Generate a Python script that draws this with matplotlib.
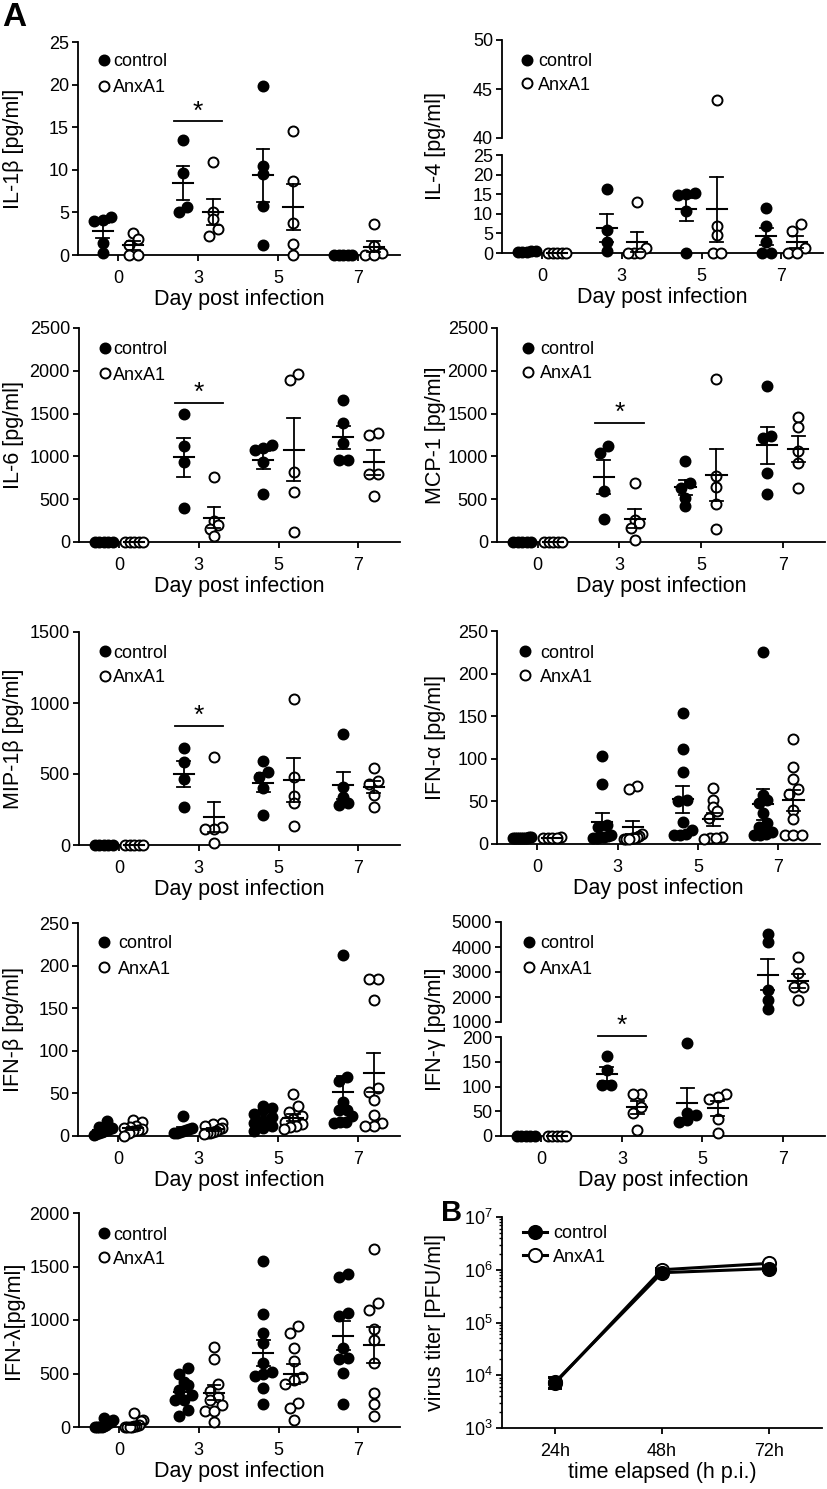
import numpy as np
import matplotlib
matplotlib.use('Agg')
import matplotlib.pyplot as plt
from matplotlib.lines import Line2D

plt.rcParams['font.family'] = ['Liberation Sans', 'DejaVu Sans']
plt.rcParams['mathtext.fontset'] = 'custom'
plt.rcParams['mathtext.rm'] = 'Liberation Sans'
plt.rcParams['mathtext.it'] = 'Liberation Sans:italic'
plt.rcParams['mathtext.bf'] = 'Liberation Sans:bold'

# ---- data ----
days = ['0', '3', '5', '7']

il1b_ctrl = [[4.1, 4.5, 4.0, 1.4, 0.2], [13.5, 9.6, 5.6, 5.1], [19.8, 10.4, 9.5, 5.8, 1.2], [0, 0, 0, 0, 0]]
il1b_anx = [[2.6, 1.9, 1.2, 0, 0], [10.9, 5.1, 4.2, 3.0, 2.2], [14.6, 8.7, 3.8, 1.25, 0], [3.6, 1.1, 0.2, 0, 0]]

il4_ctrl = [[0.4, 0.3, 0.5, 0.2, 0.3], [16.3, 5.9, 2.7, 0.4], [15.3, 15.0, 14.8, 10.8, 0], [11.4, 7.0, 2.7, 0, 0]]
il4_anx = [[0, 0, 0, 0, 0], [12.9, 1.3, 0, 0, 0], [43.9, 7.0, 4.7, 0, 0], [7.4, 5.5, 1.3, 0, 0]]

il6_ctrl = [[0, 0, 0, 0, 0], [1500, 1125, 935, 397], [1130, 1100, 1070, 930, 565], [1655, 1390, 1157, 962, 962]]
il6_anx = [[0, 0, 0, 0, 0], [759, 249, 195, 156, 66], [1967, 1896, 818, 584, 117], [1273, 1254, 798, 798, 533]]

mcp1_ctrl = [[0, 0, 0, 0, 0], [1121, 1035, 598, 273], [949, 691, 625, 515, 418], [1828, 1238, 1219, 801, 555]]
mcp1_anx = [[0, 0, 0, 0, 0], [690, 255, 220, 160, 27], [1906, 770, 645, 441, 148], [1457, 1348, 1066, 918, 633]]

mip1b_ctrl = [[0, 0, 0, 0, 0], [684, 581, 464, 265], [591, 511, 480, 403, 211], [785, 405, 335, 298, 281]]
mip1b_anx = [[0, 0, 0, 0, 0], [621, 125, 115, 110, 16], [1031, 476, 347, 293, 134], [539, 452, 429, 352, 270]]

ifna_ctrl = [[8, 8, 7, 7, 7, 7, 7, 7, 7, 7], [103, 70, 22, 20, 10, 9, 8, 8, 7, 7],
             [154, 111, 84, 52, 50, 26, 16, 12, 10, 10], [225, 58, 52, 48, 36, 25, 20, 14, 12, 11, 10]]
ifna_anx = [[8, 7, 7, 7, 7], [68, 65, 12, 9, 8, 7, 7, 6, 6, 6],
            [66, 52, 43, 39, 31, 8, 7, 7, 6], [123, 90, 76, 65, 59, 40, 29, 10.5, 10.5, 10.5]]

ifnb_ctrl = [[18, 10, 9, 8, 7, 6, 5, 4, 2, 1], [24, 9, 8, 7, 6, 5, 4, 3],
             [35, 33, 30, 26, 22, 18, 15, 12, 9, 6], [212, 69, 64, 40, 30, 30, 23, 17, 17, 15]]
ifnb_anx = [[19, 16, 12, 10, 9, 8, 7, 6, 3, 0], [15, 14, 12, 9, 8, 6, 5, 4, 3, 2],
            [49, 35, 28, 23, 20, 17, 14, 12, 10, 8], [184, 184, 160, 56, 52, 42, 25, 15, 12, 12]]

ifng_ctrl = [[0, 0, 0, 0, 0], [162, 133, 103, 103], [187, 46, 42, 32, 29], [4530, 4210, 2290, 1890, 1540]]
ifng_anx = [[0, 0, 0, 0, 0], [85, 85, 59, 46, 13], [84, 79, 75, 34, 7], [3600, 2950, 2400, 2400, 1900]]

ifnl_ctrl = [[85, 70, 50, 35, 20, 10, 0, 0, 0, 0], [553, 500, 416, 397, 344, 300, 256, 250, 156, 103],
             [1547, 1056, 881, 781, 594, 516, 500, 475, 366, 219], [1431, 1406, 1063, 1038, 734, 641, 631, 509, 219]]
ifnl_anx = [[130, 62, 55, 20, 10, 5, 0, 0, 0, 0], [744, 640, 406, 338, 281, 250, 203, 150, 150, 47],
            [944, 881, 734, 616, 469, 438, 400, 228, 178, 69], [1666, 1163, 1094, 913, 813, 594, 319, 219, 103]]

times = ['24h', '48h', '72h']
titer_ctrl = [7500, 8.8e5, 1.05e6]
titer_ctrl_sem = [1800, 8e4, 1e5]
titer_anx = [7200, 1.0e6, 1.32e6]
titer_anx_sem = [1800, 8e4, 1e5]

# ---- layout helpers (pixel coords of the 827x1489 figure) ----
W, H = 827, 1489
fig = plt.figure(figsize=(W / 100, H / 100), dpi=100)

TICK = 13
LAB = 15.5
LW = 1.3
MS = 7.2


def box(l, t, r, b):
    return [l / W, 1 - b / H, (r - l) / W, (b - t) / H]


def fx(x):
    return x / W


def fy(y):
    return 1 - y / H


def style(ax, bottom=True):
    for s in ['top', 'right']:
        ax.spines[s].set_visible(False)
    for s in ax.spines.values():
        s.set_linewidth(LW)
    ax.tick_params(axis='both', direction='out', length=4.5, width=LW, labelsize=TICK)
    ax.tick_params(axis='y', pad=2)
    ax.tick_params(axis='x', pad=6)
    if not bottom:
        ax.spines['bottom'].set_visible(False)
        ax.tick_params(axis='x', bottom=False, labelbottom=False)
    ax.patch.set_alpha(0)


def which(axs, v):
    for a, lo, hi in axs:
        if lo <= v <= hi:
            return a
    return None


def swarm_offsets(ypix, diam=9.5, half=9.0):
    # prism-like column scatter: points in the same row are spread sideways
    order = np.argsort(ypix)
    offs = np.zeros(len(ypix))
    rows = []
    for i in order:
        if rows and ypix[i] - ypix[rows[-1][0]] < diam * 0.8:
            rows[-1].append(i)
        else:
            rows.append([i])
    for row in rows:
        k = len(row)
        if k == 1:
            continue
        step = min(diam * 0.9, 2 * half / (k - 1))
        for j, i in enumerate(row):
            offs[i] = (j - (k - 1) / 2) * step
    return offs


def draw_series(axs, groups, side, filled):
    a0 = axs[-1][0]
    ppu = a0.transData.transform((1, 0))[0] - a0.transData.transform((0, 0))[0]
    for g, vals in enumerate(groups):
        vals = np.asarray(vals, float)
        xc = g + side
        homes = [which(axs, v) for v in vals]
        ypix = np.array([a.transData.transform((0, v))[1] for a, v in zip(homes, vals)])
        offs = swarm_offsets(ypix) / ppu
        for a, v, o in zip(homes, vals, offs):
            a.plot(xc + o, v, 'o', ms=MS, mfc='k' if filled else 'white', mec='k',
                   mew=1.4, clip_on=False, zorder=3)
        m = vals.mean()
        se = vals.std(ddof=1) / np.sqrt(len(vals))
        am = which(axs, m)
        am.plot([xc - 0.125, xc + 0.125], [m, m], color='k', lw=LW + 0.2, clip_on=False, zorder=4)
        for a, lo, hi in axs:
            y0 = max(m - se, lo, a.get_ylim()[0])
            y1 = min(m + se, hi, a.get_ylim()[1])
            if y1 > y0:
                a.plot([xc, xc], [y0, y1], color='k', lw=LW, clip_on=False, zorder=4)
        for e in (m - se, m + se):
            ae = which(axs, e)
            if ae is not None and se > 0:
                ae.plot([xc - 0.08, xc + 0.08], [e, e], color='k', lw=LW, clip_on=False, zorder=4)


def legend(mx, y1, y2, tx):
    fig.add_artist(Line2D([fx(mx)], [fy(y1)], marker='o', ms=MS, mfc='k', mec='k', mew=1.4, ls='none'))
    fig.add_artist(Line2D([fx(mx)], [fy(y2)], marker='o', ms=MS, mfc='white', mec='k', mew=1.4, ls='none'))
    fig.text(fx(tx), fy(y1), 'control', fontsize=TICK, va='center_baseline', ha='left')
    fig.text(fx(tx), fy(y2), 'AnxA1', fontsize=TICK, va='center_baseline', ha='left')


def cyto(bx, ylim, yticks, ctrl, anx, ylabel, leg, sig=None, upper=None):
    l, t, r, b = bx
    ax = fig.add_axes(box(l, t, r, b))
    ax.set_xlim(-0.5, 3.52)
    ax.set_ylim(*ylim)
    ax.set_yticks(yticks)
    ax.set_xticks(range(4))
    ax.set_xticklabels(days)
    style(ax)
    ax.set_xlabel('Day post infection', fontsize=LAB, labelpad=2)
    top_px = t
    if upper is not None:
        t2, b2, ylim2, yticks2 = upper
        ax2 = fig.add_axes(box(l, t2, r, b2))
        ax2.set_xlim(-0.5, 3.52)
        ax2.set_ylim(*ylim2)
        ax2.set_yticks(yticks2)
        style(ax2, bottom=False)
        axs = [(ax2, ylim2[0], np.inf), (ax, -np.inf, ylim[1])]
        top_px = t2
    else:
        axs = [(ax, -np.inf, np.inf)]
    draw_series(axs, ctrl, -0.19, True)
    draw_series(axs, anx, 0.19, False)
    fig.text(fx(14 if l < 300 else 436), fy((top_px + b) / 2), ylabel, rotation=90,
             ha='center', va='center', fontsize=LAB)
    legend(*leg)
    if sig is not None:
        ax.plot([0.7, 1.3], [sig, sig], color='k', lw=LW, clip_on=False)
        ax.annotate('*', (1, sig), xytext=(0, 2), textcoords='offset points',
                    ha='center', va='baseline', fontsize=19, annotation_clip=False)
    return ax


cyto((78, 42, 400, 255), (0, 25), range(0, 26, 5), il1b_ctrl, il1b_anx,
     'IL-1β [pg/ml]', (104, 60, 86, 113), sig=15.7)
cyto((502, 155, 823, 253), (0, 25), range(0, 26, 5), il4_ctrl, il4_anx,
     'IL-4 [pg/ml]', (527, 60, 83, 538), upper=(40, 138, (40, 50), [40, 45, 50]))
cyto((79, 328, 400, 542), (0, 2500), range(0, 2501, 500), il6_ctrl, il6_anx,
     'IL-6 [pg/ml]', (105, 348, 373, 113), sig=1624)
cyto((497, 328, 825, 542), (0, 2500), range(0, 2501, 500), mcp1_ctrl, mcp1_anx,
     'MCP-1 [pg/ml]', (528, 348, 372, 540), sig=1390)
cyto((79, 632, 400, 845), (0, 1500), range(0, 1501, 500), mip1b_ctrl, mip1b_anx,
     'MIP-1β [pg/ml]', (105, 651, 676, 113), sig=838)
cyto((497, 631, 820, 844), (0, 250), range(0, 251, 50), ifna_ctrl, ifna_anx,
     'IFN-α [pg/ml]', (525, 651, 675, 540))
cyto((78, 923, 400, 1136), (0, 250), range(0, 251, 50), ifnb_ctrl, ifnb_anx,
     'IFN-β [pg/ml]', (104, 942, 967, 118))
cyto((501, 1037, 825, 1136), (0, 200), range(0, 201, 50), ifng_ctrl, ifng_anx,
     'IFN-γ [pg/ml]', (529, 942, 967, 540), sig=202,
     upper=(922, 1022, (1000, 5000), range(1000, 5001, 1000)))
cyto((79, 1213, 400, 1427), (0, 2000), range(0, 2001, 500), ifnl_ctrl, ifnl_anx,
     'IFN-λ[pg/ml]', (104, 1233, 1257, 113))

# ---- panel B ----
axb = fig.add_axes(box(502, 1217, 822, 1428))
axb.set_yscale('log')
axb.set_ylim(1e3, 1e7)
axb.set_xlim(-0.5, 2.5)
xb = np.arange(len(times))
axb.errorbar(xb, titer_anx, yerr=titer_anx_sem, color='k', lw=2.2, marker='o', ms=9.5,
             mfc='white', mec='k', mew=1.4, capsize=5, elinewidth=1.5, capthick=1.5, zorder=3)
axb.errorbar(xb, titer_ctrl, yerr=titer_ctrl_sem, color='k', lw=2.2, marker='o', ms=9.5,
             mfc='k', mec='k', mew=1.4, capsize=5, elinewidth=1.5, capthick=1.5, zorder=4)
axb.set_xticks(xb)
axb.set_xticklabels(times)
style(axb)
axb.tick_params(axis='y', which='minor', length=2.5, width=1.0)
axb.set_xlabel('time elapsed (h p.i.)', fontsize=LAB, labelpad=2)
fig.text(fx(436), fy((1217 + 1428) / 2), 'virus titer [PFU/ml]', rotation=90,
         ha='center', va='center', fontsize=LAB)
for yy, fc, lab in [(1232, 'k', 'control'), (1255, 'white', 'AnxA1')]:
    fig.add_artist(Line2D([fx(523), fx(547)], [fy(yy), fy(yy)], color='k', lw=2.2))
    fig.add_artist(Line2D([fx(535)], [fy(yy)], marker='o', ms=9.5, mfc=fc, mec='k', mew=1.4, ls='none'))
    fig.text(fx(553), fy(yy), lab, fontsize=TICK, va='center_baseline', ha='left')

fig.text(fx(2), fy(2), 'A', fontsize=24, fontweight='bold', ha='left', va='top')
fig.text(fx(441), fy(1199), 'B', fontsize=21, fontweight='bold', ha='left', va='top')

fig.savefig('out.png', dpi=100)
